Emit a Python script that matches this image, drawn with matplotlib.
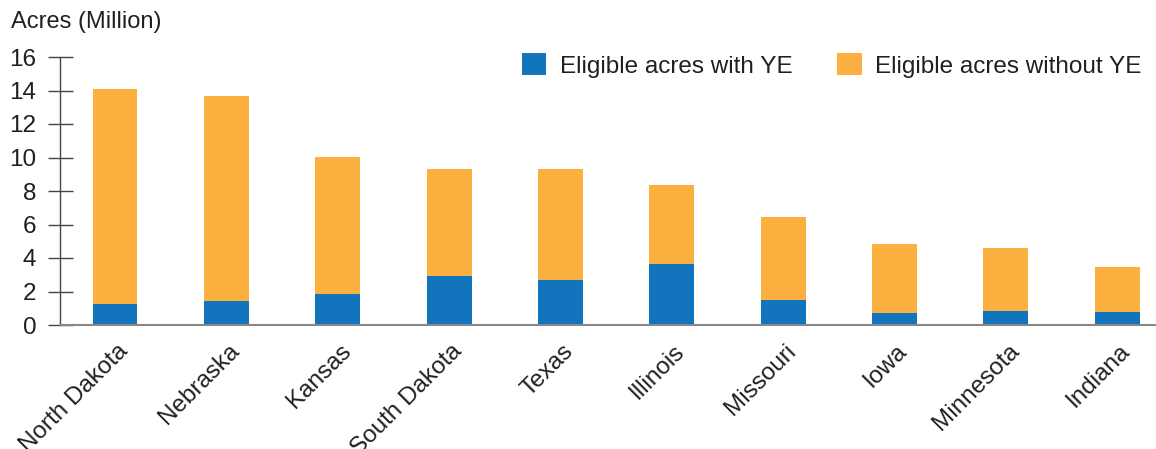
import numpy as np
import matplotlib.pyplot as plt
import matplotlib.transforms as mtransforms

plt.rcParams['font.family'] = ['Liberation Sans', 'DejaVu Sans']

states = ['North Dakota', 'Nebraska', 'Kansas', 'South Dakota', 'Texas',
          'Illinois', 'Missouri', 'Iowa', 'Minnesota', 'Indiana']
total = [14.09, 13.69, 10.01, 9.33, 9.31, 8.36, 6.43, 4.84, 4.60, 3.48]
with_ye = [1.27, 1.43, 1.87, 2.94, 2.67, 3.64, 1.49, 0.72, 0.84, 0.78]
without_ye = [t - w for t, w in zip(total, with_ye)]

blue = '#1174bd'
orange = '#fbb040'
txt = '#231f20'

fig = plt.figure(figsize=(11.56, 4.49), dpi=100)
ax = fig.add_axes([60/1156, 1 - 325/449, 1 - 60/1156, (325 - 57)/449])

x = np.arange(len(states))
ax.bar(x, with_ye, width=0.404, color=blue, label='Eligible acres with YE', zorder=2)
ax.bar(x, without_ye, width=0.404, bottom=with_ye, color=orange,
       label='Eligible acres without YE', zorder=2)

ax.set_xlim(-0.494, 9.35)
ax.set_ylim(0, 16)
ax.set_yticks(range(0, 17, 2))
ax.tick_params(axis='y', direction='inout', length=18, width=1, color='#444444',
               labelsize=17.5, labelcolor=txt, pad=8)
ax.set_xticks(x)
ax.set_xticklabels(states, rotation=45, ha='right', rotation_mode='anchor',
                   fontsize=17.5, color=txt)
ax.tick_params(axis='x', length=0, pad=11)
# nudge the slanted state names so they end just right of each bar centre
off = mtransforms.ScaledTranslation(2/100, 0, fig.dpi_scale_trans)
for lab in ax.get_xticklabels():
    lab.set_transform(lab.get_transform() + off)

for s in ['top', 'right']:
    ax.spines[s].set_visible(False)
ax.spines['left'].set_color('#444444')
ax.spines['left'].set_linewidth(1)
ax.spines['bottom'].set_color('#888888')
ax.spines['bottom'].set_linewidth(1.5)
ax.spines['bottom'].set_zorder(3)

fig.text(11/1156, 1 - 22/449, 'Acres (Million)', fontsize=17, color=txt,
         ha='left', va='center')

ax.legend(loc='upper right', bbox_to_anchor=(1 - 5/1096, 1.05), ncol=2, frameon=False,
          fontsize=17.5, handlelength=1.0, handleheight=1.0, handletextpad=0.55,
          columnspacing=1.85, labelcolor=txt, borderaxespad=0)

fig.savefig('out.png', dpi=100)
